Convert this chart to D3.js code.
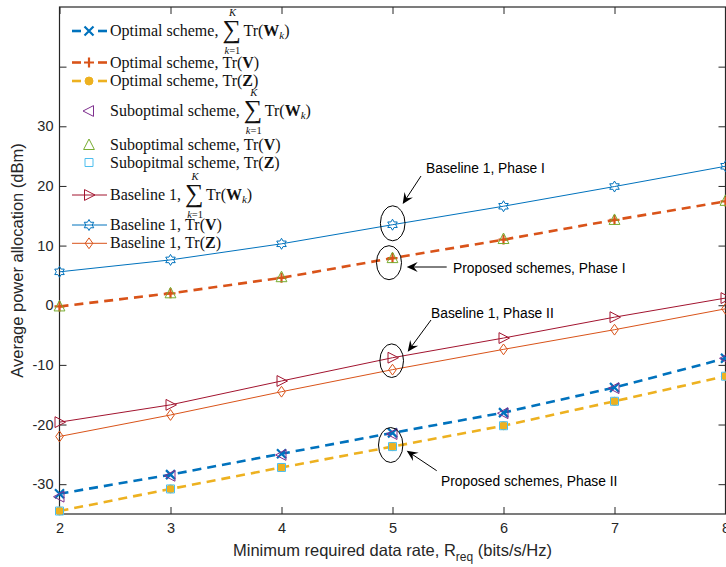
<!DOCTYPE html>
<html>
<head>
<meta charset="utf-8">
<script src="https://cdn.jsdelivr.net/npm/d3@7"></script>
<style>
body{margin:0;background:#fff}
</style>
</head>
<body>
<div id="chart"></div>
<script>
// data (dBm)
const rates=[2,3,4,5,6,7,8];
const optW=[-31.6,-28.4,-24.9,-21.4,-18.0,-13.8,-8.9];
const optV=[-0.2,2.0,4.6,7.9,11.0,14.3,17.4];
const optZ=[-34.5,-30.8,-27.2,-23.7,-20.2,-16.1,-11.9];
const subW=[-32.1,-28.6,-25.1,-21.6,-18.1,-13.9,-8.9];
const subV=[-0.2,2.0,4.7,7.9,11.1,14.3,17.5];
const subZ=[-34.5,-30.8,-27.2,-23.7,-20.2,-16.1,-11.9];
const baseW=[-19.6,-16.7,-12.7,-8.8,-5.5,-2.0,1.2];
const baseV=[5.6,7.6,10.3,13.5,16.6,19.9,23.3];
const baseZ=[-22.0,-18.4,-14.5,-10.8,-7.4,-4.1,-0.6];

const xTicks=[2,3,4,5,6,7,8];
const yTicks=[-30,-20,-10,0,10,20,30,40];
const yTickLabels=["-30","-20","-10","0","10","20","30",""];

const legendPrefix=["Optimal scheme,","Optimal scheme,","Optimal scheme,",
  "Suboptimal scheme,","Suboptimal scheme,","Subopitmal scheme,",
  "Baseline 1,","Baseline 1,","Baseline 1,"];
const legendTerm=["W","V","Z","W","V","Z","W","V","Z"];

const opt={width:726,height:567,left:59.5,right:725.5,top:7,bottom:514,tick:7}

const xScale=d3.scaleLinear().domain([2,8]).range([opt.left,opt.right]);
const yScale=d3.scaleLinear().domain([-35,50]).range([opt.bottom,opt.top]);

const series=[
  {v:optW,color:"#0072BD",dash:"9,6",w:2.6,marker:"x",ms:4.5,mw:2.2},
  {v:optV,color:"#D95319",dash:"9,6",w:2.6,marker:"plus",ms:5,mw:2.2},
  {v:optZ,color:"#EDB120",dash:"9,6",w:2.6,marker:"dot",ms:4,mw:1},
  {v:subW,color:"#7E2F8E",dash:null,w:0,marker:"left",ms:6,mw:1},
  {v:subV,color:"#77AC30",dash:null,w:0,marker:"up",ms:6,mw:1},
  {v:subZ,color:"#4DBEEE",dash:null,w:0,marker:"square",ms:4,mw:1},
  {v:baseW,color:"#A2142F",dash:"none",w:1,marker:"right",ms:6,mw:1},
  {v:baseV,color:"#0072BD",dash:"none",w:1,marker:"hex",ms:5.5,mw:1},
  {v:baseZ,color:"#D95319",dash:"none",w:1,marker:"diamond",ms:4.5,mw:1}
];

function markerPath(type,s){
  if(type==="x") return `M${-s},${-s}L${s},${s}M${-s},${s}L${s},${-s}`;
  if(type==="plus") return `M${-s},0L${s},0M0,${-s}L0,${s}`;
  if(type==="dot") return d3.symbol(d3.symbolCircle,Math.PI*s*s)();
  if(type==="square") return `M${-s},${-s}L${s},${-s}L${s},${s}L${-s},${s}Z`;
  if(type==="diamond") return `M0,${-s*1.2}L${s*0.85},0L0,${s*1.2}L${-s*0.85},0Z`;
  if(type==="up") return `M0,${-s}L${s*0.9},${s*0.75}L${-s*0.9},${s*0.75}Z`;
  if(type==="left") return `M${-s},0L${s*0.75},${-s*0.9}L${s*0.75},${s*0.9}Z`;
  if(type==="right") return `M${s},0L${-s*0.75},${-s*0.9}L${-s*0.75},${s*0.9}Z`;
  if(type==="hex"){
    const pts=d3.range(12).map(i=>{
      const a=-Math.PI/2+i*Math.PI/6, r=i%2===0?s:s/Math.sqrt(3);
      return [r*Math.cos(a),r*Math.sin(a)];
    });
    return "M"+pts.map(p=>p.join(",")).join("L")+"Z";
  }
}

const svg=d3.select("#chart")
  .append("svg")
  .attr("width",opt.width)
  .attr("height",opt.height)
  .style("font-family","Liberation Sans, Arial, sans-serif");

// axes with inward ticks
const axisColor="#262626";
const bottomAxis=svg.append("g")
  .attr("transform","translate(0,"+opt.bottom+")")
  .call(d3.axisBottom(xScale).tickValues(xTicks).tickFormat(d3.format("d")).tickSizeInner(-opt.tick).tickSizeOuter(0).tickPadding(9));
const leftAxis=svg.append("g")
  .attr("transform","translate("+opt.left+",0)")
  .call(d3.axisLeft(yScale).tickValues(yTicks).tickFormat((d,i)=>yTickLabels[i]).tickSizeInner(-opt.tick).tickSizeOuter(0).tickPadding(6));
const topAxis=svg.append("g")
  .attr("transform","translate(0,"+opt.top+")")
  .call(d3.axisTop(xScale).tickValues(xTicks).tickFormat("").tickSizeInner(-opt.tick).tickSizeOuter(0));
const rightAxis=svg.append("g")
  .attr("transform","translate("+opt.right+",0)")
  .call(d3.axisRight(yScale).tickValues(yTicks).tickFormat("").tickSizeInner(-opt.tick).tickSizeOuter(0));

[bottomAxis,leftAxis,topAxis,rightAxis].forEach(g=>{
  g.select(".domain").remove();
  g.selectAll("line").attr("stroke",axisColor).attr("stroke-width",1);
  g.selectAll("text").attr("fill",axisColor).attr("font-size","14.5px").attr("font-family","Liberation Sans, Arial, sans-serif");
});

svg.append("rect")
  .attr("x",opt.left)
  .attr("y",opt.top)
  .attr("width",opt.right-opt.left)
  .attr("height",opt.bottom-opt.top)
  .attr("fill","none")
  .attr("stroke",axisColor)
  .attr("stroke-width",1.2);

// series
const line=d3.line()
  .x((d,i)=>xScale(rates[i]))
  .y(d=>yScale(d));

series.forEach(s=>{
  if(s.dash){
    svg.append("path")
      .attr("d",line(s.v))
      .attr("fill","none")
      .attr("stroke",s.color)
      .attr("stroke-width",s.w)
      .attr("stroke-dasharray",s.dash==="none"?null:s.dash);
  }
});
// markers drawn in order, suboptimal on top of optimal like in the figure
series.forEach(s=>{
  svg.append("g").selectAll("path")
    .data(s.v)
    .enter()
    .append("path")
    .attr("transform",(d,i)=>"translate("+xScale(rates[i])+","+yScale(d)+")")
    .attr("d",markerPath(s.marker,s.ms))
    .attr("fill",s.marker==="dot"?s.color:"none")
    .attr("stroke",s.color)
    .attr("stroke-width",s.mw);
});

// legend
const legendY=[31,62.5,81,111,145,162.5,195,225,243.3];
const legend=svg.append("g").style("font-family","Liberation Serif, Times New Roman, serif");
series.forEach((s,i)=>{
  const y=legendY[i];
  const g=legend.append("g").attr("transform","translate(0,"+y+")");
  if(s.dash==="none"){
    g.append("line").attr("x1",72).attr("x2",107).attr("stroke",s.color).attr("stroke-width",s.w);
  }else if(s.dash){
    g.append("line").attr("x1",72).attr("x2",81).attr("stroke",s.color).attr("stroke-width",s.w);
    g.append("line").attr("x1",98).attr("x2",107).attr("stroke",s.color).attr("stroke-width",s.w);
  }
  g.append("path")
    .attr("transform","translate(89,0)")
    .attr("d",markerPath(s.marker,s.ms))
    .attr("fill",s.marker==="dot"?s.color:"none")
    .attr("stroke",s.color)
    .attr("stroke-width",s.mw);

  const pre=g.append("text").attr("x",110).attr("y",5).attr("font-size","16px").attr("fill","#111").text(legendPrefix[i]);
  let x=110+pre.node().getComputedTextLength()+4;
  if(legendTerm[i]==="W"){
    g.append("text").attr("x",x).attr("y",7).attr("font-size","26px").attr("fill","#111").text("\u2211");
    g.append("text").attr("x",x+10).attr("y",-15).attr("text-anchor","middle").attr("font-size","10.5px").attr("font-style","italic").attr("fill","#111").text("K");
    g.append("text").attr("x",x+10).attr("y",23).attr("text-anchor","middle").attr("font-size","10.5px").attr("fill","#111")
      .call(t=>{t.append("tspan").attr("font-style","italic").text("k");t.append("tspan").text("=1");});
    x+=21;
  }
  const t=g.append("text").attr("x",x).attr("y",5).attr("font-size","16px").attr("fill","#111");
  t.append("tspan").text("Tr(");
  t.append("tspan").attr("font-weight","bold").text(legendTerm[i]);
  if(legendTerm[i]==="W"){
    t.append("tspan").attr("font-style","italic").attr("font-size","11px").attr("dy",3).text("k");
    t.append("tspan").attr("dy",-3).text(")");
  }else{
    t.append("tspan").text(")");
  }
});

// annotations
const notes=[
  {cx:392.7,cy:223.3,rx:12.3,ry:17.5,tail:[421,176],tip:[402.7,204],text:"Baseline 1, Phase I",tx:426,ty:168},
  {cx:389,cy:262.7,rx:12.5,ry:17,tail:[446.7,267],tip:[406.7,267],text:"Proposed schemes, Phase I",tx:453,ty:268},
  {cx:391.7,cy:360.7,rx:11.8,ry:16.8,tail:[431,320],tip:[407.7,351.7],text:"Baseline 1, Phase II",tx:431,ty:313},
  {cx:390.7,cy:445,rx:12.2,ry:17.5,tail:[436.7,470.7],tip:[406.7,450.7],text:"Proposed schemes, Phase II",tx:441,ty:481}
];
notes.forEach(n=>{
  svg.append("ellipse").attr("cx",n.cx).attr("cy",n.cy).attr("rx",n.rx).attr("ry",n.ry)
    .attr("fill","none").attr("stroke","#000").attr("stroke-width",1);
  const a=Math.atan2(n.tip[1]-n.tail[1],n.tip[0]-n.tail[0]);
  const deg=a*180/Math.PI;
  svg.append("line").attr("x1",n.tail[0]).attr("y1",n.tail[1])
    .attr("x2",n.tip[0]-6*Math.cos(a)).attr("y2",n.tip[1]-6*Math.sin(a))
    .attr("stroke","#000").attr("stroke-width",1);
  svg.append("path")
    .attr("transform","translate("+n.tip[0]+","+n.tip[1]+") rotate("+deg+")")
    .attr("d","M0,0L-11,-5L-7,0L-11,5Z")
    .attr("fill","#000");
  svg.append("text").attr("x",n.tx).attr("y",n.ty).attr("dy","0.35em")
    .attr("font-size","13.8px").attr("fill","#000").text(n.text);
});

// axis labels
svg.append("text")
  .attr("x",(opt.left+opt.right)/2)
  .attr("y",556)
  .attr("text-anchor","middle")
  .attr("font-size","16.5px")
  .attr("fill",axisColor)
  .call(t=>{
    t.append("tspan").text("Minimum required data rate, R");
    t.append("tspan").attr("font-size","12px").attr("dy",5).text("req");
    t.append("tspan").attr("dy",-5).text(" (bits/s/Hz)");
  });

svg.append("text")
  .attr("transform","translate(23,"+(opt.top+opt.bottom)/2+") rotate(-90)")
  .attr("text-anchor","middle")
  .attr("font-size","16.5px")
  .attr("fill",axisColor)
  .text("Average power allocation (dBm)");
</script>
</body>
</html>
